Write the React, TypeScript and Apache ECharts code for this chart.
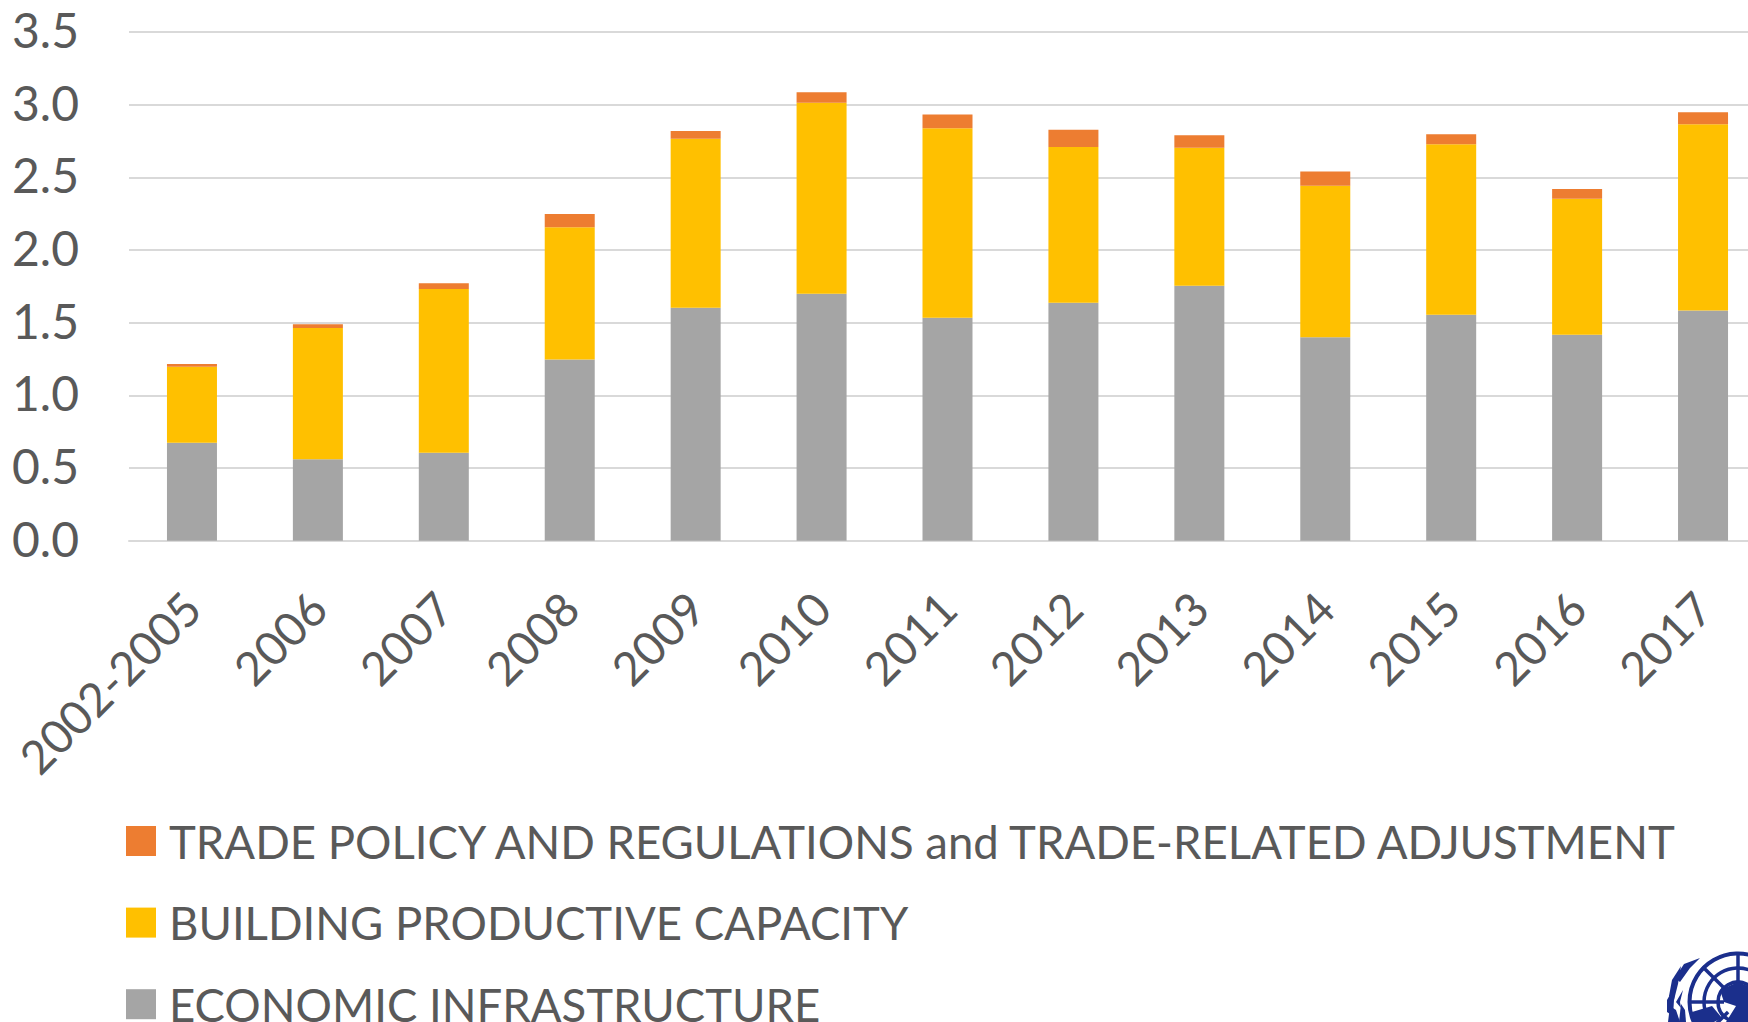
import React, { useEffect, useRef } from "react";
import * as echarts from "echarts";

const categories = ["2002-2005", "2006", "2007", "2008", "2009", "2010", "2011", "2012", "2013", "2014", "2015", "2016", "2017"];
const economicInfrastructure = [0.674, 0.56, 0.605, 1.247, 1.603, 1.699, 1.534, 1.637, 1.754, 1.399, 1.554, 1.417, 1.584];
const productiveCapacity = [0.523, 0.903, 1.126, 0.91, 1.162, 1.314, 1.304, 1.071, 0.949, 1.043, 1.174, 0.935, 1.282];
const tradePolicy = [0.018, 0.027, 0.041, 0.09, 0.053, 0.073, 0.094, 0.119, 0.087, 0.098, 0.069, 0.067, 0.082];

const NAME_TRADE = "TRADE POLICY AND REGULATIONS and TRADE-RELATED ADJUSTMENT";
const NAME_PROD = "BUILDING PRODUCTIVE CAPACITY";
const NAME_ECON = "ECONOMIC INFRASTRUCTURE";
const FONT = "Lato";
const TEXT = "#595959";
const UN = "#1b2f8c";

function logo(): any[] {
  const cx = 1738, cy = 1002;
  const ring = (r: number, w: number) => ({
    type: "circle", shape: { cx, cy, r }, style: { fill: "none", stroke: UN, lineWidth: w }, silent: true,
  });
  const spoke = (deg: number) => {
    const a = (deg * Math.PI) / 180;
    return {
      type: "line",
      shape: { x1: cx + 14 * Math.cos(a), y1: cy - 14 * Math.sin(a), x2: cx + 50 * Math.cos(a), y2: cy - 50 * Math.sin(a) },
      style: { stroke: UN, lineWidth: 3.5 }, silent: true,
    };
  };
  const leaf = (pts: number[][]) => ({
    type: "polygon", shape: { points: pts }, style: { fill: UN }, silent: true,
  });
  return [
    ring(48.5, 4), ring(34, 3.5), ring(20, 3.5),
    spoke(90), spoke(135), spoke(180), spoke(225), spoke(45),
    leaf([[1720, 990], [1738, 982], [1748, 986], [1748, 1022], [1726, 1022], [1736, 1006], [1724, 1002]]),
    leaf([[1692, 1012], [1712, 1006], [1722, 1018], [1714, 1022], [1694, 1022]]),
    leaf([[1700, 958], [1684, 964], [1675, 978], [1680, 982], [1690, 968]]),
    leaf([[1681, 966], [1672, 980], [1669, 996], [1674, 1000], [1678, 984]]),
    leaf([[1676, 984], [1667, 1000], [1667, 1012], [1673, 1016], [1674, 1000]]),
    leaf([[1683, 990], [1680, 1002], [1681, 1008], [1676, 1002]]),
    leaf([[1670, 1006], [1668, 1022], [1680, 1022], [1676, 1010]]),
    leaf([[1681, 1004], [1679, 1022], [1686, 1022], [1685, 1010]]),
  ];
}

export default function App() {
  const ref = useRef<HTMLDivElement>(null);
  useEffect(() => {
    const chart = echarts.init(ref.current!, undefined, { renderer: "svg" });
    const bar = (name: string, data: number[], color: string) => ({
      name, type: "bar", stack: "total", data, barWidth: 50,
      itemStyle: { color }, silent: true,
    });
    chart.setOption({
      animation: false,
      backgroundColor: "#ffffff",
      textStyle: { fontFamily: FONT },
      grid: { left: 129, top: 32, width: 1637, height: 508.7, containLabel: false, outerBoundsMode: "none" },
      legend: {
        orient: "vertical", left: 126, top: 818, padding: 0, height: 300,
        itemWidth: 30, itemHeight: 30, itemGap: 35.6, icon: "rect",
        selectedMode: false,
        data: [NAME_TRADE, NAME_PROD, NAME_ECON],
        textStyle: { fontFamily: FONT, fontSize: 45.5, lineHeight: 36, color: TEXT, padding: [0, 0, 4, 8] },
      },
      xAxis: {
        type: "category", data: categories,
        axisLine: { lineStyle: { color: "#d9d9d9", width: 2 } },
        axisTick: { show: false },
        axisLabel: { rotate: 45, interval: 0, margin: 59, fontFamily: FONT, fontSize: 46.5, color: TEXT },
      },
      yAxis: {
        type: "value", min: 0, max: 3.5, interval: 0.5,
        axisLine: { show: false }, axisTick: { show: false },
        axisLabel: { margin: 50, fontFamily: FONT, fontSize: 48, color: TEXT, verticalAlign: "bottom", lineHeight: 5, formatter: (v: number) => v.toFixed(1) },
        splitLine: { lineStyle: { color: "#d9d9d9", width: 2 } },
      },
      series: [
        bar(NAME_ECON, economicInfrastructure, "#a5a5a5"),
        bar(NAME_PROD, productiveCapacity, "#ffc000"),
        bar(NAME_TRADE, tradePolicy, "#ed7d31"),
      ],
      graphic: logo(),
    });
    return () => chart.dispose();
  }, []);
  return <div ref={ref} style={{ position: "fixed", left: 0, top: 0, width: 1748, height: 1022 }} />;
}
